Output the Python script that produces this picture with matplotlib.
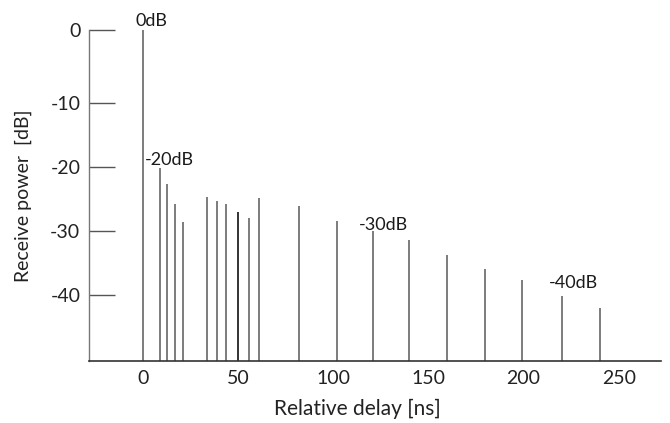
import numpy as np
import matplotlib
matplotlib.use("Agg")
import matplotlib.pyplot as plt

# ---- data ----
delays = [0, 9, 13, 17, 21, 34, 39, 44, 50, 56, 61, 82, 102, 121, 140, 160, 180, 199, 220, 240]
powers = [0, -20.1, -22.7, -25.8, -28.6, -24.7, -25.4, -25.8, -27.0, -28.0, -24.9,
          -26.1, -28.4, -30.0, -31.4, -33.8, -35.9, -37.7, -40.2, -42.1]
label_idx = [0, 1, 13, 18]
label_txt = ["0dB", "-20dB", "-30dB", "-40dB"]
label_off = [(9, 4), (10, 3), (10, 1), (12, 8)]  # offsets in pixels
xticks = [0, 50, 100, 150, 200, 250]
yticks = [0, -10, -20, -30, -40]

plt.rcParams['font.family'] = ['Lato', 'DejaVu Sans']
plt.rcParams['axes.unicode_minus'] = False

fig = plt.figure(figsize=(6.7, 4.23), dpi=100)
ax = fig.add_axes([89.3/670, 1-360.7/423, (660.7-89.3)/670, (360.7-30)/423])

# the reference's y axis is slightly stretched between 0 and -10
k = 73/64
def fwd(y):
    y = np.asarray(y, float)
    return np.where(y > -10, -10 + (y + 10)*k, y)
def inv(f):
    f = np.asarray(f, float)
    return np.where(f > -10, -10 + (f + 10)/k, f)
ax.set_yscale('function', functions=(fwd, inv))

ybot = -50.3
ax.set_ylim(ybot, 0)
ax.set_xlim(-28, 272)

colors = ['#111111' if d == 50 else '#666666' for d in delays]
ax.vlines(delays, ybot, powers, colors=colors, linewidth=1.2)

for i, t, off in zip(label_idx, label_txt, label_off):
    ax.annotate(t, xy=(delays[i], powers[i]), xytext=off, textcoords='offset pixels',
                ha='center', va='baseline', fontsize=13, color='#1a1a1a')

ax.set_xticks(xticks)
ax.set_yticks(yticks)
ax.set_yticklabels([str(v) for v in yticks])
ax.tick_params(axis='x', length=0, pad=6.5, labelsize=14, labelcolor='#222222')
ax.tick_params(axis='y', direction='in', length=19, width=1, color='#555555',
               pad=6.5, labelsize=14, labelcolor='#222222')
ax.minorticks_off()

for s in ['top', 'right']:
    ax.spines[s].set_visible(False)
ax.spines['left'].set_color('#777777')
ax.spines['bottom'].set_color('#333333')
ax.spines['left'].set_linewidth(1.0)
ax.spines['bottom'].set_linewidth(1.2)

ax.set_xlabel("Relative delay [ns]", fontsize=15, color='#222222')
ax.xaxis.set_label_coords(0.47, -0.115)
ax.set_ylabel("Receive power  [dB]", fontsize=14, color='#222222')
ax.yaxis.label.set_va('center')
ax.yaxis.set_label_coords(-0.115, 0.5)

fig.savefig("out.png", dpi=100)
